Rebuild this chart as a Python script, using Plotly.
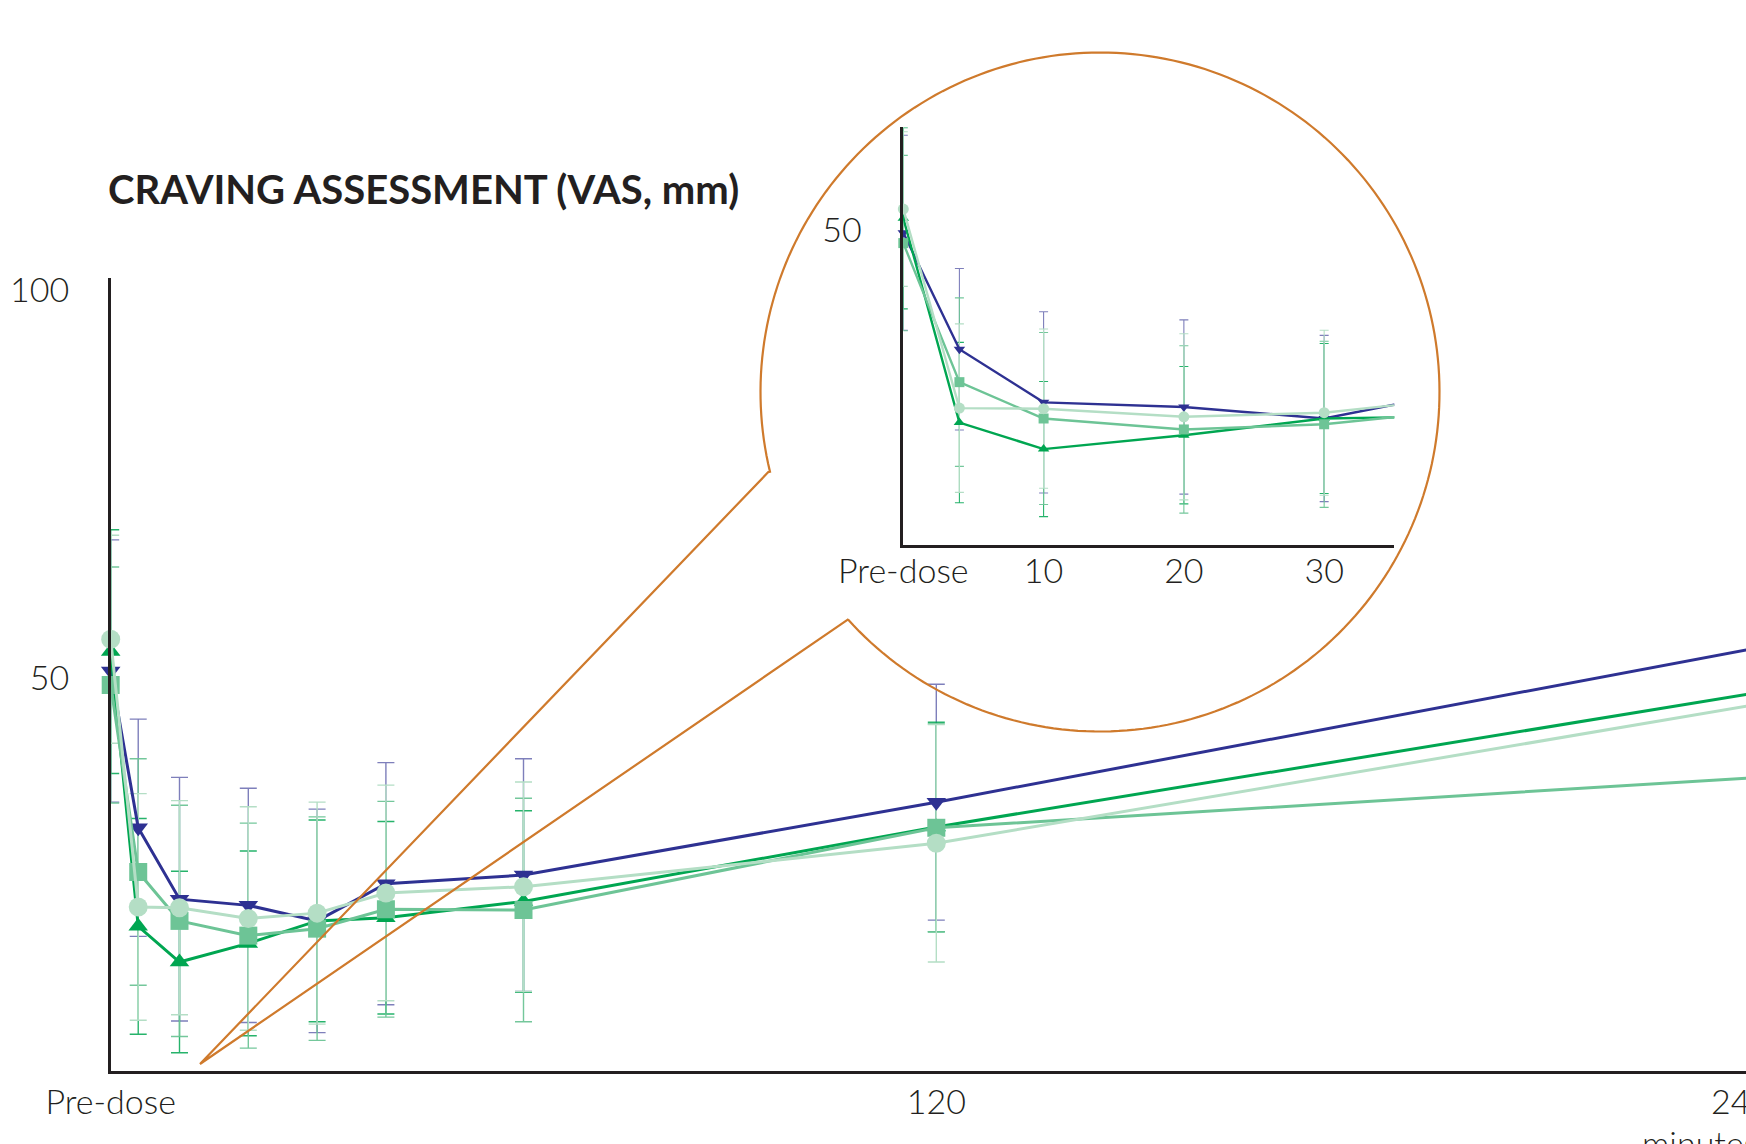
import math
import plotly.graph_objects as go

# ---------------- data ----------------
times = [0, 4, 10, 20, 30, 40, 60, 120, 240]          # minutes (0 = pre-dose)
series_names = ["Group A", "Group B", "Group C", "Group D"]

mean_a = [50.9, 30.7, 21.5, 20.7, 18.7, 23.5, 24.6, 34.0, 54.0]
sd_a   = [16.9, 14.0, 15.7, 15.1, 14.4, 15.6, 15.0, 15.2, None]
mean_b = [53.4, 18.0, 13.4, 15.8, 18.7, 19.1, 21.2, 30.8, 48.2]
sd_b   = [15.7, 13.9, 11.7, 11.9, 13.0, 12.4, 11.7, 13.5, None]
mean_c = [49.1, 25.0, 18.7, 16.8, 17.7, 20.2, 20.1, 30.7, 37.2]
sd_c   = [15.2, 14.6, 14.9, 14.5, 14.4, 13.9, 14.4, 13.4, None]
mean_d = [55.0, 20.5, 20.4, 19.0, 19.7, 22.3, 23.1, 28.7, 46.7]
sd_d   = [13.4, 14.6, 13.8, 14.4, 14.3, 13.9, 13.5, 15.3, None]

main_ticks = [0, 120]
main_ticktext = ["Pre-dose", "120"]
inset_ticks = [0, 10, 20, 30]
inset_ticktext = ["Pre-dose", "10", "20", "30"]
title_text = "CRAVING ASSESSMENT (VAS, mm)"

# ---------------- styles ----------------
W, H = 1746, 1144
TXT = "#231F20"
ORANGE = "#CF7A2C"
colors = ["#2E3192", "#00A651", "#6DC496", "#B4DEC5"]
err_colors = ["rgba(46,49,146,0.62)", "rgba(0,166,81,0.85)",
              "rgba(109,196,150,0.95)", "rgba(180,222,197,1)"]
symbols = ["triangle-down", "triangle-up", "square", "circle"]
main_sizes = [17, 17, 18, 19]
inset_sizes = [10, 10, 10, 11]
means = [mean_a, mean_b, mean_c, mean_d]
sds = [sd_a, sd_b, sd_c, sd_d]


def px_x(p):
    return p / W


def px_y(p):
    return 1 - p / H


# main axes geometry (pixels)
MX0, MY_BOT, MY_TOP = 110.7, 1071, 278
M_PX_PER_MIN = 6.88
M_Y0, M_PX_PER_UNIT = 1066, 7.76
main_xrange = [0, (W - MX0) / M_PX_PER_MIN]
main_yrange = [(M_Y0 - MY_BOT) / M_PX_PER_UNIT, (M_Y0 - MY_TOP) / M_PX_PER_UNIT]

# inset axes geometry (pixels)
IX0, IX1, IY_BOT, IY_TOP = 903.3, 1394.3, 545, 127.3
I_Y0, I_PX_PER_UNIT = 526.4, 5.77
inset_xrange = [0, 35]
inset_yrange = [(I_Y0 - IY_BOT) / I_PX_PER_UNIT, (I_Y0 - IY_TOP) / I_PX_PER_UNIT]

fig = go.Figure()

panels = [
    dict(xa="x", ya="y", xmax=main_xrange[1], sizes=main_sizes, lw=3.0,
         ew=1.4, ecap=8.5),
    dict(xa="x2", ya="y2", xmax=inset_xrange[1], sizes=inset_sizes, lw=2.4,
         ew=1.1, ecap=4.5),
]

for pn in panels:
    keep = [i for i, t in enumerate(times) if t <= pn["xmax"]]
    # error bars underneath
    for k in range(4):
        fig.add_trace(go.Scatter(
            x=[times[i] for i in keep], y=[means[k][i] for i in keep],
            xaxis=pn["xa"], yaxis=pn["ya"], mode="markers",
            marker=dict(size=1, opacity=0, color=colors[k]),
            error_y=dict(type="data", array=[sds[k][i] for i in keep],
                         color=err_colors[k], thickness=pn["ew"], width=pn["ecap"]),
            cliponaxis=False, showlegend=False, hoverinfo="skip",
            name=series_names[k]))
    # lines and markers
    for k in range(4):
        fig.add_trace(go.Scatter(
            x=times, y=means[k], xaxis=pn["xa"], yaxis=pn["ya"], mode="lines",
            line=dict(color=colors[k], width=pn["lw"]), showlegend=False,
            name=series_names[k]))
        fig.add_trace(go.Scatter(
            x=[times[i] for i in keep], y=[means[k][i] for i in keep],
            xaxis=pn["xa"], yaxis=pn["ya"], mode="markers",
            marker=dict(symbol=symbols[k], size=pn["sizes"][k], color=colors[k],
                        line=dict(width=0)),
            cliponaxis=False, showlegend=False, name=series_names[k]))

tickfont = dict(family="Lato", size=34, color=TXT, weight=300)
axis_common = dict(showgrid=False, zeroline=False, showline=True,
                   linecolor=TXT, linewidth=2.5, ticks="", tickfont=tickfont,
                   fixedrange=True, automargin=False)

fig.update_layout(
    template="none",
    width=W, height=H, autosize=False,
    margin=dict(l=0, r=0, t=0, b=0, pad=0),
    paper_bgcolor="white", plot_bgcolor="rgba(0,0,0,0)",
    showlegend=False,
    xaxis=dict(domain=[px_x(MX0), 1], range=main_xrange, tickvals=main_ticks,
               ticktext=main_ticktext, ticklabelstandoff=-1, anchor="y",
               **axis_common),
    yaxis=dict(domain=[px_y(MY_BOT), px_y(MY_TOP)], range=main_yrange,
               tickvals=[50, 100], ticktext=["50", "100"], ticklabelstandoff=32,
               anchor="x", **axis_common),
    xaxis2=dict(domain=[px_x(IX0), px_x(IX1)], range=inset_xrange,
                tickvals=inset_ticks, ticktext=inset_ticktext,
                ticklabelstandoff=-6, anchor="y2", **axis_common),
    yaxis2=dict(domain=[px_y(IY_BOT), px_y(IY_TOP)], range=inset_yrange,
                tickvals=[50], ticktext=["50"], ticklabelstandoff=32,
                ticklabelshift=-8, anchor="x2", **axis_common),
)

# title
fig.add_annotation(text="<b>" + title_text + "</b>", xref="paper", yref="paper",
                   x=px_x(106), y=px_y(189), xanchor="left", yanchor="middle",
                   showarrow=False,
                   font=dict(family="Lato", size=40, color=TXT, weight=900))
# last x label (partly outside the picture) and axis unit
fig.add_annotation(text="240", xref="paper", yref="paper", x=px_x(1772),
                   y=px_y(1100), xanchor="right", yanchor="middle",
                   showarrow=False, font=tickfont)
fig.add_annotation(text="minutes", xref="paper", yref="paper", x=px_x(1760),
                   y=px_y(1142), xanchor="right", yanchor="middle",
                   showarrow=False, font=tickfont)

# magnifier call-out: circle arc with two lines to the origin region
CX, CY, R = 1100, 392, 339.5
p_low = (848.5, 619.1)
apex = (200, 1064)
p_up = (768.3, 472.1)
a1 = math.atan2(p_up[1] - CY, p_up[0] - CX)
a2 = math.atan2(p_low[1] - CY, p_low[0] - CX) + 2 * math.pi
pts = [p_low, apex, p_up]
n = 240
for i in range(n + 1):
    a = a1 + (a2 - a1) * i / n
    pts.append((CX + R * math.cos(a), CY + R * math.sin(a)))
path = "M " + " L ".join(f"{px_x(x):.5f},{px_y(y):.5f}" for x, y in pts)
fig.add_shape(type="path", path=path, xref="paper", yref="paper",
              line=dict(color=ORANGE, width=2.2), layer="above")

fig.write_html("out.html", config={"displayModeBar": False},
               post_script="document.body.style.margin='0px';"
                           "document.body.style.overflow='hidden';")
